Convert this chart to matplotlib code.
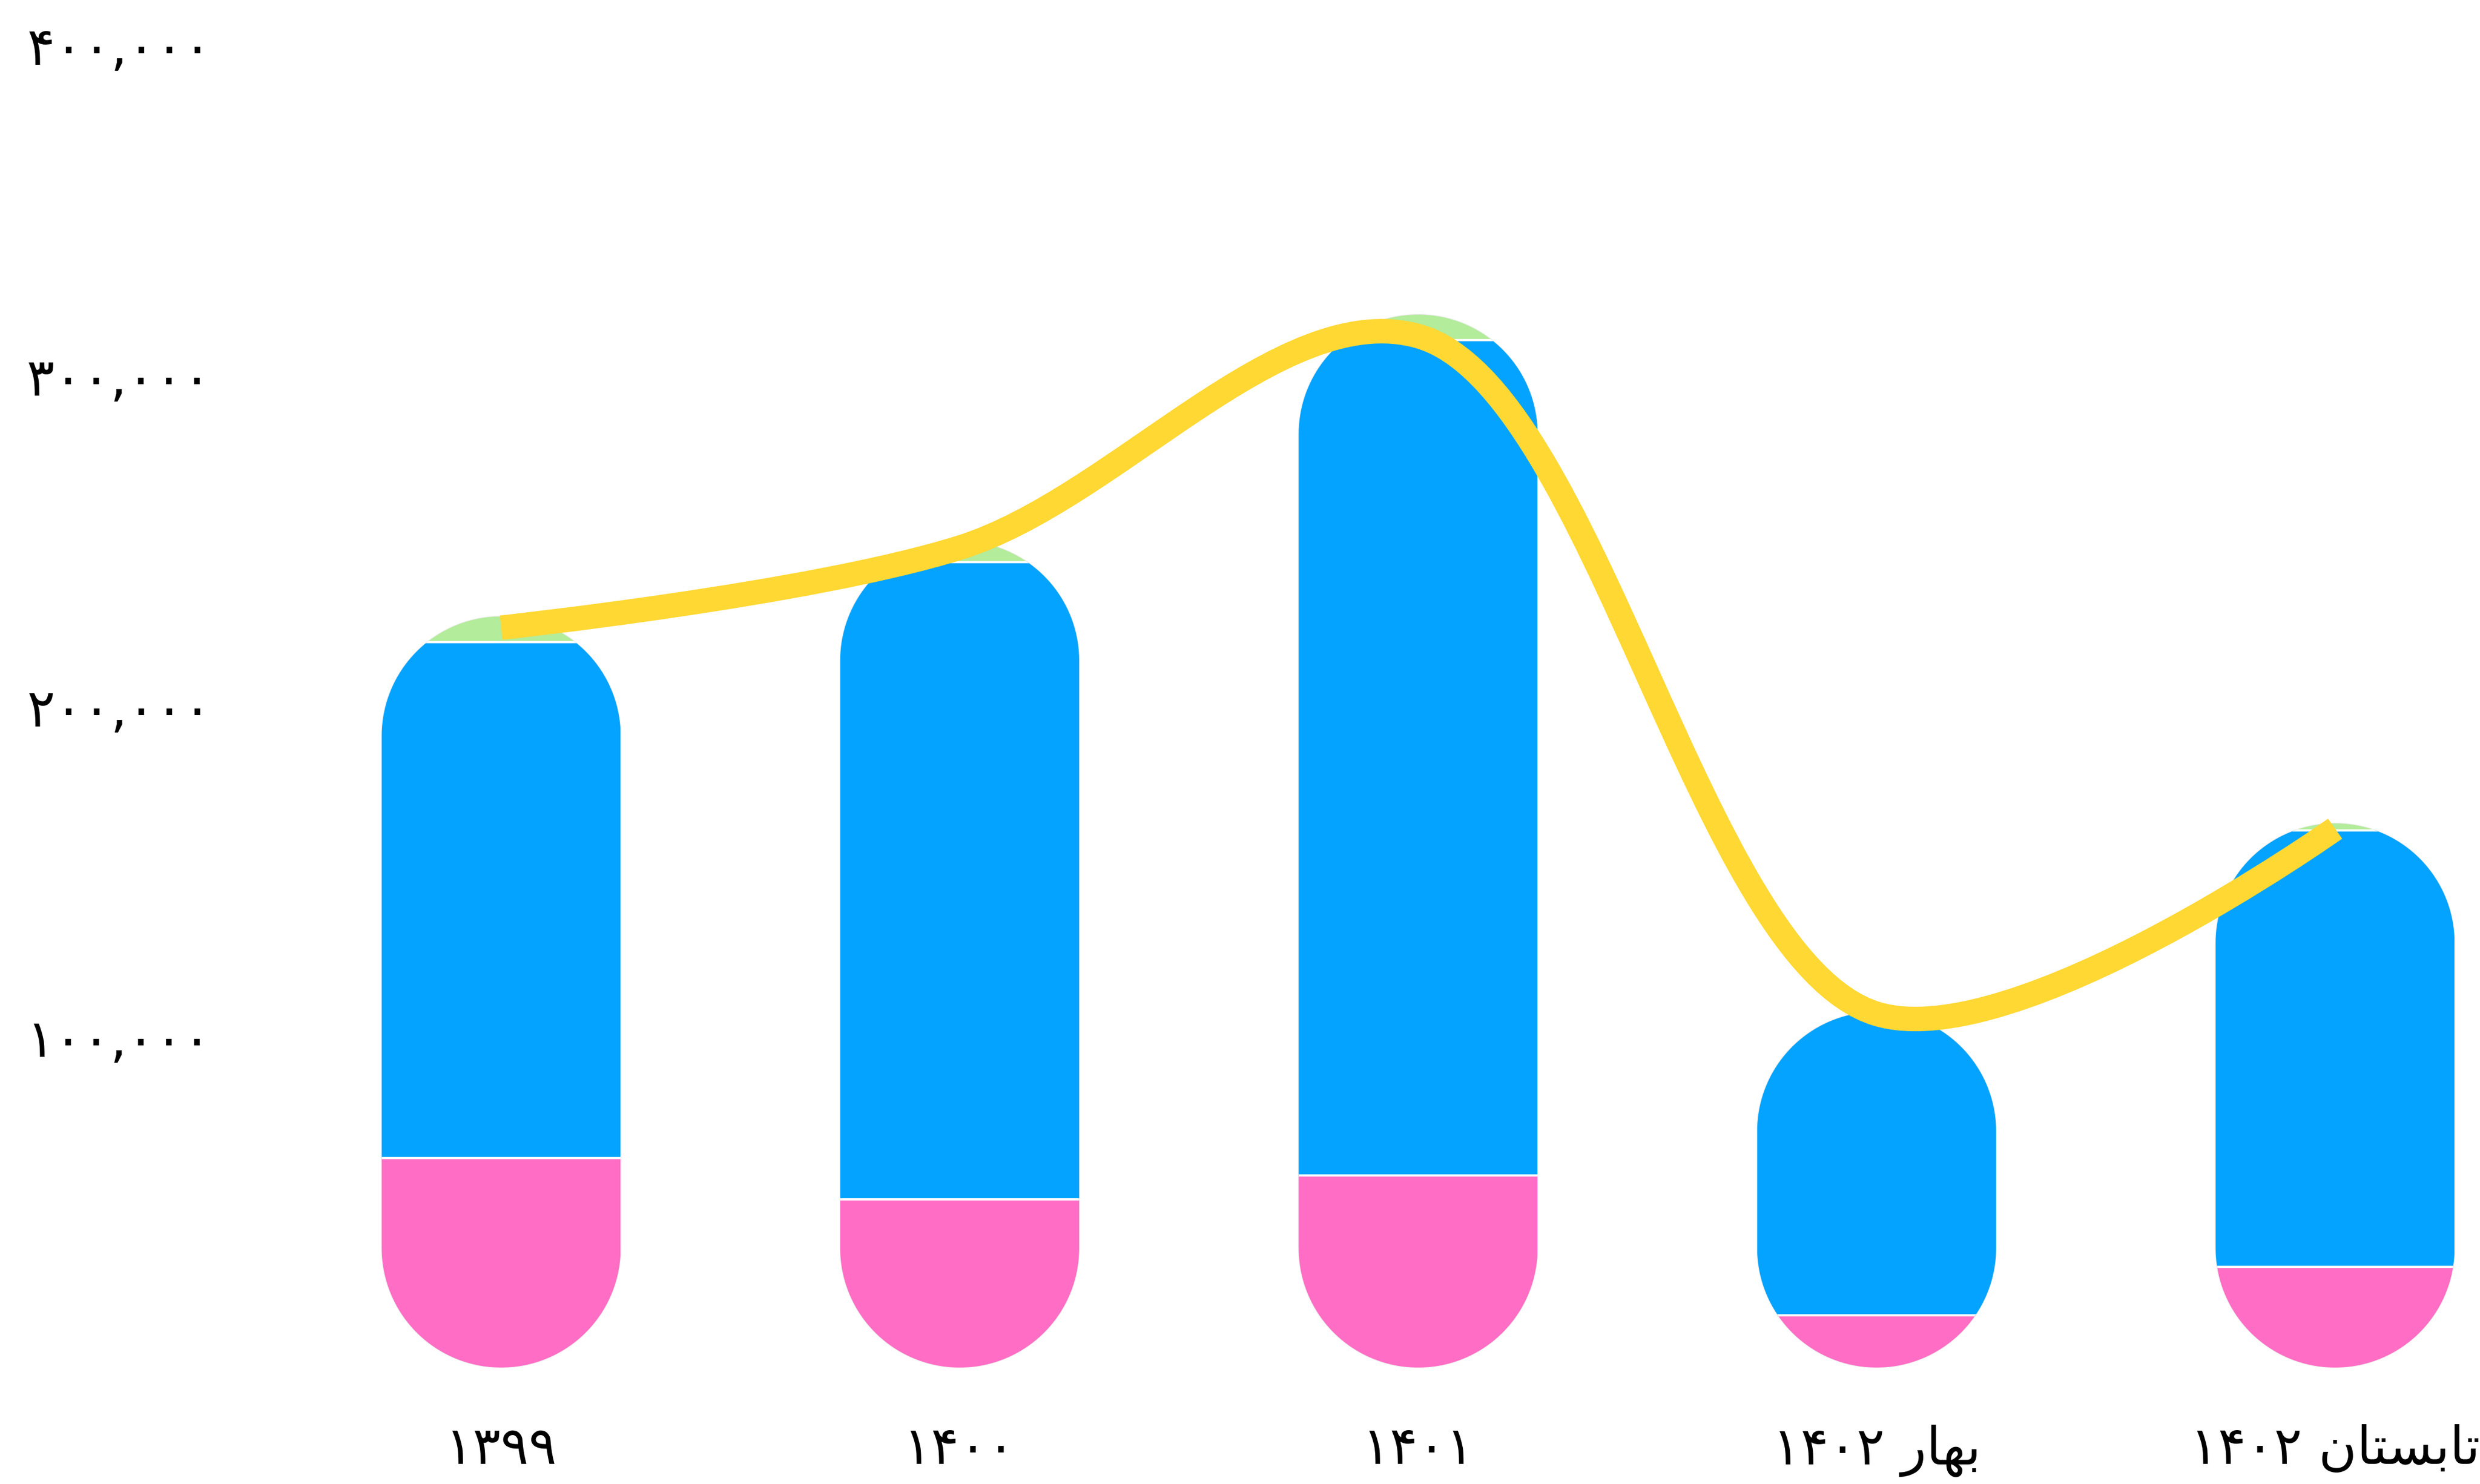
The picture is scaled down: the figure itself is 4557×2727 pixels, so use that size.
import matplotlib
matplotlib.use('Agg')
import matplotlib.pyplot as plt
import numpy as np
from matplotlib.path import Path
from matplotlib.patches import PathPatch, Rectangle

plt.rcParams['font.family'] = ['DejaVu Sans']

# data
categories = ['۱۳۹۹', '۱۴۰۰', '۱۴۰۱', 'بهار ۱۴۰۲', 'تابستان ۱۴۰۲']
pink = [63400, 50900, 58100, 15800, 30400]
blue = [156100, 192800, 252600, 91200, 132000]
green = [7700, 6300, 7800, 600, 2200]
line_values = [223800, 248000, 312000, 107000, 163000]
yticks = [100000, 200000, 300000, 400000]

colors = ['#FF6DC4', '#03A3FF', '#B3EC9B']
line_color = '#FFD833'

# minimal persian shaping (matplotlib has no bidi / joining)
FORMS = {  # isolated, final, initial, medial
    'ا': ('\ufe8d', '\ufe8e', None, None),
    'ب': ('\ufe8f', '\ufe90', '\ufe91', '\ufe92'),
    'ت': ('\ufe95', '\ufe96', '\ufe97', '\ufe98'),
    'ر': ('\ufead', '\ufeae', None, None),
    'س': ('\ufeb1', '\ufeb2', '\ufeb3', '\ufeb4'),
    'ن': ('\ufee5', '\ufee6', '\ufee7', '\ufee8'),
    'ه': ('\ufee9', '\ufeea', '\ufeeb', '\ufeec'),
}


def shape_word(w):
    out = []
    for i, ch in enumerate(w):
        if ch not in FORMS:
            out.append(ch)
            continue
        iso, fin, ini, med = FORMS[ch]
        prev_joins = i > 0 and w[i - 1] in FORMS and FORMS[w[i - 1]][2] is not None
        next_joins = ini is not None and i < len(w) - 1 and w[i + 1] in FORMS
        if prev_joins and next_joins:
            out.append(med)
        elif prev_joins:
            out.append(fin)
        elif next_joins:
            out.append(ini)
        else:
            out.append(iso)
    return out


def fa_label(s):
    vis = []
    for w in reversed(s.split(' ')):
        if any(c in FORMS for c in w):
            vis.append(''.join(reversed(shape_word(w))))
        else:
            vis.append(w)
    return ' '.join(vis)


def fa_num(v):
    return f'{v:,}'.translate(str.maketrans('0123456789', '۰۱۲۳۴۵۶۷۸۹'))


def capsule(cx, top, hw, cap_h, k=80):
    # bar outline with half-round ends (round in pixels, so elliptic in data units)
    t = np.linspace(0, np.pi, k)
    c, s = np.cos(t), np.sin(t)
    xs = cx + hw * c
    ytop = top - cap_h + cap_h * s
    ybot = cap_h - cap_h * s
    verts = list(zip(xs, ytop)) + list(zip(xs[::-1], ybot))
    verts.append(verts[0])
    codes = [Path.MOVETO] + [Path.LINETO] * (len(verts) - 2) + [Path.CLOSEPOLY]
    return Path(verts, codes)


def catmull_rom(P, alpha=0.5):
    # same construction as d3.curveCatmullRom, in pixel space
    verts = [P[0]]
    n = len(P)
    for i in range(n - 1):
        p0 = P[i - 1] if i > 0 else P[i]
        p1, p2 = P[i], P[i + 1]
        p3 = P[i + 2] if i + 2 < n else P[i + 1]
        l01 = np.hypot(*(p1 - p0)); l12 = np.hypot(*(p2 - p1)); l23 = np.hypot(*(p3 - p2))
        l01a, l12a, l23a = l01 ** alpha, l12 ** alpha, l23 ** alpha
        l01_2a, l12_2a, l23_2a = l01 ** (2 * alpha), l12 ** (2 * alpha), l23 ** (2 * alpha)
        c1 = p1.copy()
        if l01a > 1e-9:
            a = 2 * l01_2a + 3 * l01a * l12a + l12_2a
            m = 3 * l01a * (l01a + l12a)
            c1 = (p1 * a - p0 * l12_2a + p2 * l01_2a) / m
        c2 = p2.copy()
        if l23a > 1e-9:
            b = 2 * l23_2a + 3 * l23a * l12a + l12_2a
            m = 3 * l23a * (l23a + l12a)
            c2 = (p2 * b + p1 * l23_2a - p3 * l12_2a) / m
        verts += [c1, c2, p2]
    return np.array(verts)


W, H, DPI = 4557, 2727, 300
fig = plt.figure(figsize=(W / DPI, H / DPI), dpi=DPI)
xlim = (-0.6, 4.3)
ax = fig.add_axes([415.5 / W, 214 / H, 4128 / W, 2430 / H])
ax.set_xlim(*xlim)
ax.set_ylim(0, 400000)
for sp in ax.spines.values():
    sp.set_visible(False)

bbox = ax.get_window_extent()
sx = bbox.width / (xlim[1] - xlim[0])
sy = bbox.height / 400000
hw = 219.5 / sx
cap_h = 219.5 / sy

x = np.arange(len(categories))
for i in x:
    segs = [pink[i], blue[i], green[i]]
    total = sum(segs)
    clip = PathPatch(capsule(i, total, hw, min(cap_h, total / 2)),
                     facecolor='none', edgecolor='#eeeeee', lw=0.6, zorder=1)
    ax.add_patch(clip)
    bottom = 0
    for j, (v, col) in enumerate(zip(segs, colors)):
        r = Rectangle((i - hw, bottom), 2 * hw, v, facecolor=col, lw=0, zorder=2)
        ax.add_patch(r)
        r.set_clip_path(clip)
        bottom += v
        if j < len(segs) - 1:
            ln, = ax.plot([i - hw, i + hw], [bottom, bottom], color='white', lw=1.0, zorder=2.5)
            ln.set_clip_path(clip)

pts = ax.transData.transform(np.column_stack([x, line_values]))
curve = ax.transData.inverted().transform(catmull_rom(pts))
codes = [Path.MOVETO] + [Path.CURVE4] * (len(curve) - 1)
ax.add_patch(PathPatch(Path(curve, codes), facecolor='none', edgecolor=line_color,
                       lw=10.8, capstyle='butt', zorder=4, clip_on=False))

ax.set_yticks(yticks)
ax.set_yticklabels([fa_num(v) for v in yticks], fontsize=23)
ax.set_xticks(x)
ax.set_xticklabels([fa_label(c) for c in categories], fontsize=23)
ax.tick_params(axis='both', length=0)
ax.tick_params(axis='y', pad=6.5)
ax.tick_params(axis='x', pad=25)

fig.savefig('out.png', dpi=DPI)
